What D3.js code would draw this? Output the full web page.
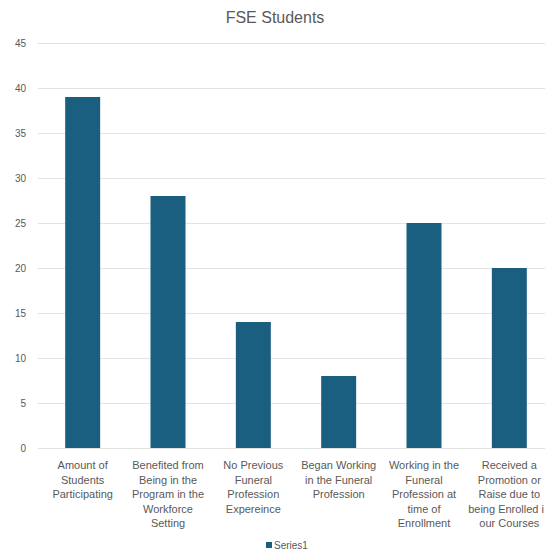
<!DOCTYPE html>
<html><head><meta charset="utf-8">
<script src="https://cdn.jsdelivr.net/npm/d3@7"></script>
<style>
html,body{margin:0;padding:0;background:#fff;overflow:hidden;}
svg{display:block;font-family:"Liberation Sans",Arial,sans-serif;}
</style></head>
<body>
<svg id="chart" width="545" height="550"></svg>
<script>
const title = "FSE Students";
const seriesName = "Series1";
const categories = [
  ["Amount of","Students","Participating"],
  ["Benefited from","Being in the","Program in the","Workforce","Setting"],
  ["No Previous","Funeral","Profession","Expereince"],
  ["Began Working","in the Funeral","Profession"],
  ["Working in the","Funeral","Profession at","time of","Enrollment"],
  ["Received a","Promotion or","Raise due to","being Enrolled i","our Courses"]
];
const values = [39, 28, 14, 8, 25, 20];
const yTicks = [0,5,10,15,20,25,30,35,40,45];

const svg = d3.select("#chart");
const x = d3.scaleBand().domain(d3.range(values.length)).range([40, 552]).paddingInner(0.59).paddingOuter(0.295);
const y = d3.scaleLinear().domain([0,45]).range([448, 43]);

svg.append("text").attr("x", 275).attr("y", 23).attr("text-anchor","middle")
  .attr("font-size", 16).attr("fill", "#595959").text(title);

// gridlines
svg.append("g").selectAll("line").data(yTicks).join("line")
  .attr("x1", 38).attr("x2", 545)
  .attr("y1", d => y(d)+0.5).attr("y2", d => y(d)+0.5)
  .attr("stroke", "#e3e3e3").attr("stroke-width", 1.2);

// y axis labels
const yAxis = d3.axisLeft(y).tickValues(yTicks).tickSize(0).tickPadding(0);
const gy = svg.append("g").attr("transform","translate(26,0)").call(yAxis);
gy.select(".domain").remove();
gy.selectAll("text").attr("font-size", 10).attr("fill","#595959").attr("font-family","Liberation Sans, Arial, sans-serif");

// bars
svg.append("g").selectAll("rect").data(values).join("rect")
  .attr("x", (d,i) => x(i)).attr("width", x.bandwidth())
  .attr("y", d => y(d)).attr("height", d => y(0) - y(d))
  .attr("fill", "#1a5e80");

// category labels
const gx = svg.append("g");
categories.forEach((lines, i) => {
  const cx = x(i) + x.bandwidth()/2;
  lines.forEach((ln, j) => {
    const t = gx.append("text").attr("font-size", 11).attr("fill","#595959")
      .attr("y", 469 + j*14.5).text(ln);
    const w = t.node().getComputedTextLength();
    let left = cx - w/2;
    if (left + w > 544) left = 544 - w;
    t.attr("x", left);
  });
});

// legend
const lg = svg.append("g");
lg.append("rect").attr("x", 266).attr("y", 542).attr("width", 6).attr("height", 6).attr("fill","#1a5e80");
lg.append("text").attr("x", 274).attr("y", 549).attr("font-size", 10).attr("fill","#595959").text(seriesName);
</script>
</body></html>
